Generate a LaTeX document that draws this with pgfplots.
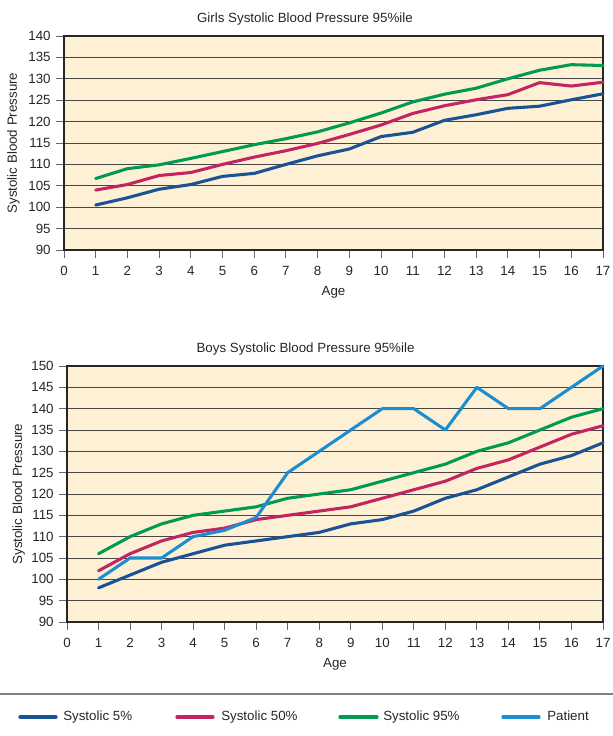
\documentclass[border=0pt]{standalone}
\usepackage{pgfplots}
\pgfplotsset{compat=1.18}
\usepackage{fontspec}
\setmainfont{Liberation Sans}
\definecolor{cfive}{RGB}{26,82,150}
\definecolor{cfifty}{RGB}{194,37,98}
\definecolor{cninetyfive}{RGB}{0,155,80}
\definecolor{cpat}{RGB}{27,142,209}
\definecolor{bgcol}{RGB}{253,240,212}
\pgfplotstableread{
age p5 p50 p95
1 100.5 104.0 106.7
2 102.2 105.3 109.0
3 104.2 107.4 109.9
4 105.3 108.1 111.4
5 107.2 110.0 113.0
6 107.9 111.7 114.6
7 110.0 113.2 116.0
8 112.0 114.9 117.6
9 113.6 117.0 119.7
10 116.5 119.2 122.0
11 117.5 121.9 124.6
12 120.3 123.7 126.4
13 121.6 125.1 127.8
14 123.1 126.3 130.0
15 123.6 129.1 132.0
16 125.1 128.3 133.3
17 126.5 129.2 133.1
}\girls
\pgfplotstableread{
age p5 p50 p95 pat
1 98 102 106 100
2 101 106 110 105
3 104 109 113 105
4 106 111 115 110
5 108 112 116 111.5
6 109 114 117 114.5
7 110 115 119 125
8 111 116 120 130
9 113 117 121 135
10 114 119 123 140
11 116 121 125 140
12 119 123 127 135
13 121 126 130 145
14 124 128 132 140
15 127 131 135 140
16 129 134 138 145
17 132 136 140 150
}\boys
\pgfplotsset{
  bpstyle/.style={
    scale only axis,
    xmin=0, xmax=17, ymin=90,
    xtick={0,...,17},
    ytick distance=5,
    tick pos=left,
    tick align=outside,
    major tick length=6pt,
    every tick/.style={black!60, line width=0.7pt},
    axis line style={black!85, line width=0.9pt},
    axis background/.style={fill=bgcol},
    ymajorgrids,
    major grid style={black!72, line width=0.6pt},
    /pgf/number format/assume math mode=true,
    tick label style={font=\fontsize{10}{12}\selectfont, black!85},
    xticklabel style={yshift=-2.5pt},
    yticklabel style={xshift=-0.5pt},
    label style={font=\fontsize{10}{12}\selectfont, black!85},
    xlabel={Age},
    xlabel style={yshift=-1pt},
    ylabel={Systolic Blood Pressure},
    every axis plot/.append style={line width=2.3pt, line join=round, line cap=round, mark=none},
    clip=false,
  }
}
\begin{document}
\begin{tikzpicture}
\useasboundingbox (0,0) rectangle (459.75pt,552pt);
\begin{axis}[bpstyle,
  at={(48pt,364.5pt)}, anchor=south west,
  width=404.25pt, height=160.5pt,
  ymax=140,
  ylabel style={at={(axis description cs:-0.094,0.5)}, anchor=center},
  title={Girls Systolic Blood Pressure 95\%ile},
  title style={at={(axis description cs:0.447,1)}, anchor=center, yshift=6.75pt, font=\fontsize{10}{12}\selectfont, black!85},
]
\addplot[cfive] table[x=age,y=p5] {\girls};
\addplot[cfifty] table[x=age,y=p50] {\girls};
\addplot[cninetyfive] table[x=age,y=p95] {\girls};
\end{axis}
\begin{axis}[bpstyle,
  at={(50.25pt,85.5pt)}, anchor=south west,
  width=402pt, height=192pt,
  ymax=150,
  ylabel style={at={(axis description cs:-0.09,0.5)}, anchor=center},
  title={Boys Systolic Blood Pressure 95\%ile},
  title style={at={(axis description cs:0.445,1)}, anchor=center, yshift=6.75pt, font=\fontsize{10}{12}\selectfont, black!85},
]
\addplot[cfive] table[x=age,y=p5] {\boys};
\addplot[cfifty] table[x=age,y=p50] {\boys};
\addplot[cninetyfive] table[x=age,y=p95] {\boys};
\addplot[cpat] table[x=age,y=pat] {\boys};
\end{axis}
\draw[black!50, line width=1pt] (0,31.5pt) -- (459.75pt,31.5pt);
\begin{scope}[font=\fontsize{10}{12}\selectfont]
\draw[cfive, line width=2.5pt, line cap=round] (15pt,14.25pt) -- (42pt,14.25pt);
\node[anchor=mid west, black!85, inner sep=0pt] at (47.25pt,14.25pt) {Systolic 5\%};
\draw[cfifty, line width=2.5pt, line cap=round] (132.75pt,14.25pt) -- (159.75pt,14.25pt);
\node[anchor=mid west, black!85, inner sep=0pt] at (165.75pt,14.25pt) {Systolic 50\%};
\draw[cninetyfive, line width=2.5pt, line cap=round] (255pt,14.25pt) -- (282.75pt,14.25pt);
\node[anchor=mid west, black!85, inner sep=0pt] at (287.25pt,14.25pt) {Systolic 95\%};
\draw[cpat, line width=2.5pt, line cap=round] (377.25pt,14.25pt) -- (404.25pt,14.25pt);
\node[anchor=mid west, black!85, inner sep=0pt] at (410.25pt,14.25pt) {Patient};
\end{scope}
\end{tikzpicture}
\end{document}
